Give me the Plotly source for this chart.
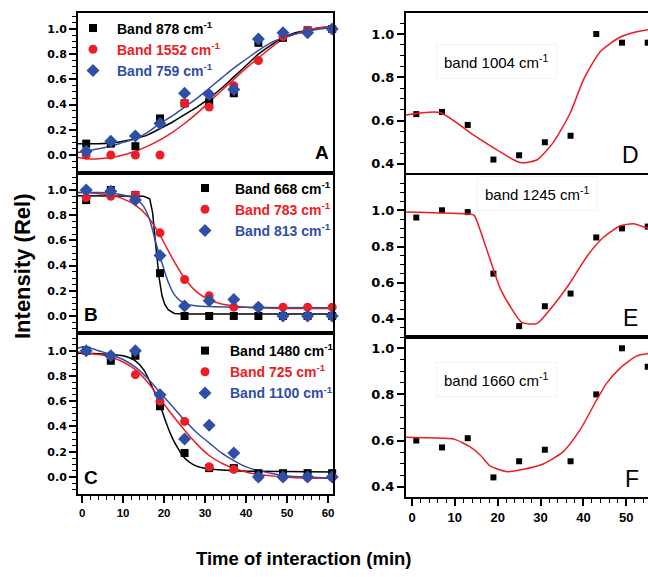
import plotly.graph_objects as go

# ---------------- data ----------------
t_left = [1, 7, 13, 19, 25, 31, 37, 43, 49, 55, 61]
t_right = [1, 7, 13, 19, 25, 31, 37, 43, 49, 55]

# Panel A
a_878 = [0.09, 0.09, 0.07, 0.29, 0.41, 0.42, 0.49, 0.89, 0.93, 0.99, 1.0]
a_1552 = [0.0, 0.0, 0.0, 0.0, 0.41, 0.38, 0.55, 0.75, 0.94, 0.99, 1.0]
a_759 = [0.03, 0.11, 0.15, 0.25, 0.49, 0.48, 0.52, 0.92, 0.97, 0.97, 1.0]
fit_grid = [-1, 1, 4, 7, 10, 13, 16, 19, 22, 25, 28, 31, 34, 37, 40, 43, 46, 49, 52, 55, 58, 61.2]
a_fit_878 = [0.09, 0.09, 0.09, 0.095, 0.11, 0.13, 0.16, 0.21, 0.26, 0.32, 0.38, 0.45, 0.53, 0.62, 0.71, 0.80, 0.87, 0.93, 0.97, 0.99, 1.01, 1.02]
a_fit_1552 = [-0.02, -0.03, -0.03, -0.02, 0.0, 0.03, 0.07, 0.12, 0.18, 0.25, 0.33, 0.42, 0.51, 0.60, 0.69, 0.77, 0.85, 0.92, 0.96, 0.99, 1.01, 1.02]
a_fit_759 = [0.02, 0.03, 0.05, 0.07, 0.10, 0.13, 0.18, 0.25, 0.31, 0.38, 0.45, 0.53, 0.61, 0.69, 0.76, 0.83, 0.89, 0.93, 0.96, 0.98, 1.0, 1.01]

# Panel B
b_668 = [0.92, 1.0, 0.96, 0.34, 0.0, 0.0, 0.0, 0.0, 0.0, 0.0, 0.0]
b_783 = [0.94, 0.95, 0.96, 0.66, 0.29, 0.16, 0.07, 0.07, 0.07, 0.07, 0.07]
b_813 = [1.0, 0.99, 0.92, 0.48, 0.08, 0.12, 0.13, 0.07, 0.0, 0.0, 0.0]
b_fit_668_x = [-1, 13, 15, 16.5, 17.2, 18, 18.8, 19.5, 20.2, 21, 22.5, 25, 61.2]
b_fit_668 = [0.955, 0.955, 0.95, 0.93, 0.82, 0.55, 0.30, 0.16, 0.09, 0.05, 0.02, 0.015, 0.015]
b_fit_783_x = [-1, 1, 4, 7, 10, 13, 16, 19, 22, 25, 28, 31, 34, 37, 40, 43, 49, 55, 61.2]
b_fit_783 = [0.98, 0.98, 0.97, 0.96, 0.93, 0.88, 0.79, 0.64, 0.46, 0.30, 0.19, 0.13, 0.095, 0.08, 0.07, 0.065, 0.06, 0.06, 0.06]
b_fit_813_x = [-1, 1, 4, 7, 10, 13, 15, 16.5, 18, 19.5, 21, 22.5, 24, 26, 28, 31, 37, 43, 61.2]
b_fit_813 = [0.98, 0.98, 0.98, 0.975, 0.96, 0.93, 0.87, 0.76, 0.58, 0.42, 0.27, 0.17, 0.12, 0.09, 0.08, 0.075, 0.07, 0.068, 0.065]

# Panel C
c_1480 = [1.0, 0.92, 0.96, 0.56, 0.19, 0.07, 0.07, 0.03, 0.03, 0.03, 0.03]
c_725 = [1.0, 0.96, 0.81, 0.60, 0.44, 0.08, 0.06, 0.0, 0.0, 0.0, 0.0]
c_1100 = [1.0, 0.96, 1.0, 0.65, 0.30, 0.41, 0.19, 0.0, 0.0, 0.0, 0.0]
c_fit_1480_x = [-1, 1, 4, 7, 10, 13, 15, 17, 19, 20.5, 22, 23.5, 25, 27, 29, 31, 34, 37, 43, 61.2]
c_fit_1480 = [0.98, 0.98, 0.975, 0.97, 0.96, 0.92, 0.85, 0.72, 0.57, 0.43, 0.31, 0.22, 0.15, 0.10, 0.075, 0.065, 0.055, 0.05, 0.045, 0.04]
c_fit_x = [-1, 1, 4, 7, 10, 13, 16, 19, 22, 25, 28, 31, 34, 37, 40, 43, 46, 49, 55, 61.2]
c_fit_725 = [0.99, 0.98, 0.97, 0.95, 0.91, 0.85, 0.75, 0.62, 0.49, 0.37, 0.26, 0.17, 0.11, 0.07, 0.04, 0.02, 0.01, 0.0, -0.01, -0.01]
c_fit_1100 = [1.02, 1.03, 1.0, 0.97, 0.93, 0.87, 0.78, 0.67, 0.56, 0.45, 0.35, 0.27, 0.19, 0.13, 0.08, 0.05, 0.03, 0.01, 0.0, -0.01]

# Panels D, E, F
d_1004 = [0.63, 0.64, 0.58, 0.42, 0.44, 0.50, 0.53, 1.0, 0.96, 0.96]
e_1245 = [0.96, 1.0, 0.99, 0.65, 0.36, 0.47, 0.54, 0.85, 0.90, 0.91]
f_1660 = [0.60, 0.57, 0.61, 0.44, 0.51, 0.56, 0.51, 0.80, 1.0, 0.92]
d_fit_x = [-1.4, 6.5, 14.3, 19.8, 25.2, 29.1, 32.8, 36.9, 40, 43.9, 48.5, 52.4, 55.1]
d_fit = [0.626, 0.637, 0.534, 0.465, 0.406, 0.418, 0.495, 0.634, 0.788, 0.918, 0.985, 1.01, 1.02]
e_fit_x = [-1.4, 13.5, 14.5, 17.4, 20.5, 22.9, 25.6, 29.1, 32.2, 36.9, 40.8, 44.7, 48.5, 51.6, 55.1]
e_fit = [0.99, 0.978, 0.972, 0.786, 0.573, 0.47, 0.381, 0.374, 0.452, 0.60, 0.745, 0.851, 0.913, 0.926, 0.90]
f_fit_x = [-1.4, 7.3, 10, 13.5, 15.9, 18.2, 22.1, 26, 30.6, 35.3, 39.2, 43.1, 45.4, 48.5, 52.4, 55.1]
f_fit = [0.614, 0.61, 0.605, 0.573, 0.537, 0.49, 0.465, 0.475, 0.498, 0.552, 0.646, 0.776, 0.848, 0.913, 0.967, 0.978]

# ---------------- style ----------------
W, H = 648, 577
BLACK = "#000000"
RED = "#ee1c25"
BLUE = "#2f4ea6"
ARIAL = "Liberation Sans, Arial, sans-serif"
WIDE = "DejaVu Sans, sans-serif"


def px_x(p):
    return p / W


def px_y(p):
    return 1 - p / H


fig = go.Figure()


def add_data(xa, ya, x, y, color, symbol, size, name, legend):
    fig.add_trace(go.Scatter(
        x=x, y=y, mode="markers", xaxis=xa, yaxis=ya,
        marker=dict(color=color, symbol=symbol, size=size, line=dict(width=0)),
        name=name, legend=legend, showlegend=True, cliponaxis=False,
    ))


def add_fit(xa, ya, x, y, color, shape="spline", smoothing=1.0):
    kw = dict(shape=shape, color=color, width=1.5)
    if shape == "spline":
        kw["smoothing"] = smoothing
    fig.add_trace(go.Scatter(
        x=x, y=y, mode="lines", xaxis=xa, yaxis=ya, line=kw,
        showlegend=False, hoverinfo="skip",
    ))


def lname(txt, color):
    return f"<span style='color:{color}'><b>Band {txt} cm<sup>-1</sup></b></span>"


# Panel A
add_fit("x", "y", fit_grid, a_fit_878, BLACK)
add_fit("x", "y", fit_grid, a_fit_1552, RED)
add_fit("x", "y", fit_grid, a_fit_759, BLUE)
add_data("x", "y", t_left, a_878, BLACK, "square", 8, lname("878", BLACK), "legend")
add_data("x", "y", t_left, a_1552, RED, "circle", 9, lname("1552", RED), "legend")
add_data("x", "y", t_left, a_759, BLUE, "diamond", 10, lname("759", BLUE), "legend")

# Panel B
add_fit("x2", "y2", b_fit_668_x, b_fit_668, BLACK, shape="linear")
add_fit("x2", "y2", b_fit_783_x, b_fit_783, RED)
add_fit("x2", "y2", b_fit_813_x, b_fit_813, BLUE)
add_data("x2", "y2", t_left, b_668, BLACK, "square", 8, lname("668", BLACK), "legend2")
add_data("x2", "y2", t_left, b_783, RED, "circle", 9, lname("783", RED), "legend2")
add_data("x2", "y2", t_left, b_813, BLUE, "diamond", 10, lname("813", BLUE), "legend2")

# Panel C
add_fit("x3", "y3", c_fit_1480_x, c_fit_1480, BLACK)
add_fit("x3", "y3", c_fit_x, c_fit_725, RED)
add_fit("x3", "y3", c_fit_x, c_fit_1100, BLUE)
add_data("x3", "y3", t_left, c_1480, BLACK, "square", 8, lname("1480", BLACK), "legend3")
add_data("x3", "y3", t_left, c_725, RED, "circle", 9, lname("725", RED), "legend3")
add_data("x3", "y3", t_left, c_1100, BLUE, "diamond", 10, lname("1100", BLUE), "legend3")

# Panels D, E, F
for xa, ya, fx, fy, yy in [("x4", "y4", d_fit_x, d_fit, d_1004),
                           ("x5", "y5", e_fit_x, e_fit, e_1245),
                           ("x6", "y6", f_fit_x, f_fit, f_1660)]:
    fig.add_trace(go.Scatter(x=t_right, y=yy, mode="markers", xaxis=xa, yaxis=ya,
                             marker=dict(color=BLACK, symbol="square", size=6),
                             showlegend=False))
    add_fit(xa, ya, fx, fy, RED, smoothing=0.6)

# ---------------- axes ----------------
left_dom = [px_x(78), px_x(333)]
right_dom = [px_x(406), 1.0]

left_rows = {"": (13, 173, [-0.143, 1.127]),
             "2": (173, 333, [-0.135, 1.135]),
             "3": (333, 494, [-0.135, 1.14])}
right_rows = {"4": (13, 173, [0.358, 1.097]),
              "5": (175, 337, [0.30, 1.195]),
              "6": (337, 497, [0.355, 1.049])}

layout = dict(
    width=W, height=H,
    margin=dict(l=0, r=0, t=0, b=0),
    paper_bgcolor="white", plot_bgcolor="white",
    showlegend=True,
)

for key, (top, bot, yr) in left_rows.items():
    bottom_axis = key == "3"
    layout["xaxis" + key] = dict(
        domain=left_dom, anchor="y" + key, range=[-1, 61.2],
        showline=True, linecolor=BLACK, linewidth=2, mirror=True,
        showgrid=False, zeroline=False,
        ticks="outside" if bottom_axis else "", ticklen=7, tickwidth=1.5, tickcolor=BLACK,
        dtick=10, tick0=0, showticklabels=bottom_axis,
        tickfont=dict(family=ARIAL, size=11.5, color=BLACK, weight="bold"),
        minor=dict(dtick=2, ticks="outside" if bottom_axis else "", ticklen=4, tickwidth=1, tickcolor=BLACK),
    )
    layout["yaxis" + key] = dict(
        domain=[px_y(bot), px_y(top)], anchor="x" + key, range=yr,
        showline=True, linecolor=BLACK, linewidth=2, mirror=True,
        showgrid=False, zeroline=False,
        ticks="outside", ticklen=7, tickwidth=1.5, tickcolor=BLACK,
        dtick=0.2, tick0=0, tickformat=".1f",
        tickfont=dict(family=WIDE, size=11, color=BLACK, weight="bold"),
        minor=dict(dtick=0.05, ticks="outside", ticklen=4, tickwidth=1, tickcolor=BLACK),
    )

for key, (top, bot, yr) in right_rows.items():
    bottom_axis = key == "6"
    layout["xaxis" + key] = dict(
        domain=right_dom, anchor="y" + key, range=[-1.4, 55.07],
        showline=True, linecolor=BLACK, linewidth=2, mirror=True,
        showgrid=False, zeroline=False,
        ticks="outside" if bottom_axis else "", ticklen=7, tickwidth=1.5, tickcolor=BLACK,
        dtick=10, tick0=0, showticklabels=bottom_axis,
        tickfont=dict(family=ARIAL, size=13, color=BLACK, weight="bold"),
        minor=dict(dtick=2, ticks="outside" if bottom_axis else "", ticklen=4, tickwidth=1, tickcolor=BLACK),
    )
    layout["yaxis" + key] = dict(
        domain=[px_y(bot), px_y(top)], anchor="x" + key, range=yr,
        showline=True, linecolor=BLACK, linewidth=2, mirror=False,
        showgrid=False, zeroline=False,
        ticks="outside", ticklen=7, tickwidth=1.5, tickcolor=BLACK,
        dtick=0.2, tick0=0, tickformat=".1f",
        tickfont=dict(family=WIDE, size=13, color=BLACK, weight="bold"),
        minor=dict(dtick=0.05, ticks="outside", ticklen=4, tickwidth=1, tickcolor=BLACK),
    )

legend_common = dict(
    bgcolor="rgba(0,0,0,0)", borderwidth=0,
    font=dict(family=ARIAL, size=14, color=BLACK),
    xanchor="left", yanchor="top", traceorder="normal",
    tracegroupgap=0,
)
layout["legend"] = dict(legend_common, x=px_x(69), y=px_y(12.5), itemwidth=38)
layout["legend2"] = dict(legend_common, x=px_x(175), y=px_y(172.5), itemwidth=50)
layout["legend3"] = dict(legend_common, x=px_x(180), y=px_y(335), itemwidth=40)

annotations = []


def ann(text, x, y, size, weight="normal", family=ARIAL, **kw):
    annotations.append(dict(
        text=text, x=px_x(x), y=px_y(y), xref="paper", yref="paper",
        showarrow=False, xanchor="center", yanchor="middle",
        font=dict(family=family, size=size, color=BLACK, weight=weight), **kw))


ann("A", 322, 152, 19, "bold")
ann("B", 91, 314, 19, "bold")
ann("C", 91, 477, 19, "bold")
ann("D", 630, 155, 23)
ann("E", 630, 318, 23)
ann("F", 632, 479, 23)
box = dict(bordercolor="#f3f3f3", borderwidth=1, borderpad=7)
ann("band 1004 cm<sup>-1</sup>", 496, 61, 15, **box)
ann("band 1245 cm<sup>-1</sup>", 537, 193, 15, **box)
ann("band 1660 cm<sup>-1</sup>", 496, 379, 15, **box)
ann("Intensity (Rel)", 22, 267, 22, "bold", textangle=-90)
ann("Time of interaction (min)", 304, 558, 18.5, "bold")

layout["annotations"] = annotations
fig.update_layout(**layout)

fig.write_html("out.html")
